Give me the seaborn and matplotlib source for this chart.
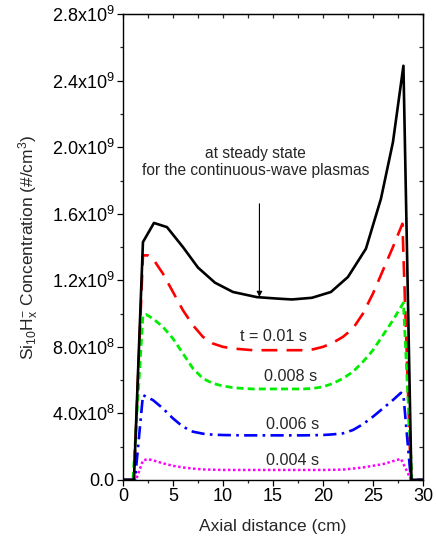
import numpy as np
import pandas as pd
import matplotlib
matplotlib.use("Agg")
import matplotlib.pyplot as plt
from matplotlib.ticker import MultipleLocator
import seaborn as sns

# ---------------- data (concentration in units of 1e9 #/cm^3) ----------------
x_ss = [0, 1.1, 2.0, 3.1, 4.4, 6.0, 7.5, 9.2, 11.0, 13.4, 15.5, 16.9, 18.9,
        20.8, 22.5, 24.3, 25.8, 27.0, 28.05, 28.85, 30]
y_ss = [0, 0, 1.43, 1.545, 1.52, 1.40, 1.277, 1.186, 1.13, 1.099, 1.09, 1.085,
        1.095, 1.13, 1.22, 1.39, 1.69, 2.03, 2.49, 0, 0]

x_010 = [0, 1.1, 2.0, 2.5, 3, 4, 5, 6, 7, 8, 9, 10, 11, 12, 13, 14, 15, 16, 17,
         18, 19, 20, 21, 22, 23, 24, 25, 26, 27, 27.95, 28.8, 30]
y_010 = [0, 0, 1.35, 1.35, 1.33, 1.24, 1.13, 1.02, 0.93, 0.86, 0.82, 0.80, 0.79,
         0.785, 0.78, 0.78, 0.78, 0.78, 0.78, 0.78, 0.785, 0.80, 0.825, 0.86,
         0.91, 1.00, 1.12, 1.26, 1.40, 1.54, 0, 0]

x_008 = [0, 1.0, 2.0, 2.3, 3, 4, 5, 6, 7, 8, 9, 10, 11, 12, 13, 14, 15, 16, 17,
         18, 19, 20, 21, 22, 23, 24, 25, 26, 27, 28.05, 28.9, 30]
y_008 = [0, 0, 0.99, 0.995, 0.97, 0.92, 0.85, 0.76, 0.67, 0.61, 0.58, 0.565,
         0.555, 0.55, 0.547, 0.547, 0.547, 0.547, 0.547, 0.547, 0.55, 0.56,
         0.58, 0.61, 0.65, 0.71, 0.78, 0.87, 0.96, 1.065, 0, 0]

x_006 = [0, 1.2, 2.0, 3, 4, 5, 6, 7, 8, 9, 10, 12, 14, 16, 18, 20, 21, 22, 23,
         24, 25, 26, 27, 27.8, 28.05, 28.8, 30]
y_006 = [0, 0, 0.51, 0.48, 0.43, 0.37, 0.32, 0.29, 0.278, 0.272, 0.27, 0.268,
         0.268, 0.268, 0.268, 0.27, 0.274, 0.28, 0.30, 0.335, 0.38, 0.43, 0.48,
         0.524, 0.51, 0, 0]

x_004 = [0, 1.3, 2.0, 2.5, 3, 4, 5, 6, 7, 8, 10, 12, 14, 16, 18, 20, 22, 24,
         26, 27.8, 28.5, 28.8, 30]
y_004 = [0, 0, 0.117, 0.125, 0.118, 0.10, 0.085, 0.075, 0.068, 0.063, 0.06,
         0.06, 0.06, 0.06, 0.06, 0.06, 0.062, 0.075, 0.095, 0.127, 0.04, 0, 0]

y_ticks = [0.0, 0.4, 0.8, 1.2, 1.6, 2.0, 2.4, 2.8]
y_ticklabels = ["0.0", r"4.0x10$^{8}$", r"8.0x10$^{8}$", r"1.2x10$^{9}$",
                r"1.6x10$^{9}$", r"2.0x10$^{9}$", r"2.4x10$^{9}$", r"2.8x10$^{9}$"]
x_ticks = [0, 5, 10, 15, 20, 25, 30]

curve_labels = ["t = 0.01 s", "0.008 s", "0.006 s", "0.004 s"]
curve_label_pos = [(15.1, 0.863), (16.8, 0.621), (16.95, 0.333), (16.95, 0.117)]

# ---------------- style ----------------
sns.set_style("ticks")
plt.rcParams["font.family"] = ["Liberation Sans", "DejaVu Sans"]
plt.rcParams["mathtext.fontset"] = "custom"
plt.rcParams["mathtext.rm"] = "Liberation Sans"
plt.rcParams["mathtext.it"] = "Liberation Sans:italic"
plt.rcParams["mathtext.default"] = "regular"

fig = plt.figure(figsize=(4.36, 5.46), dpi=100)
ax = fig.add_axes([0.282, 0.121, 0.688, 0.853])

series = [
    (x_ss, y_ss, "black", "-", 1.9),
    (x_010, y_010, "#ff0000", (0, (6, 3.5)), 1.9),
    (x_008, y_008, "#00ee00", (0, (2.5, 1.5)), 2.0),
    (x_006, y_006, "#0000ff", (0, (5, 2, 1, 2)), 1.9),
    (x_004, y_004, "#ff00ff", (0, (1, 1)), 1.8),
]
# draw colored curves first, black on top
for xs, ys, col, ls, lw in series[1:] + series[:1]:
    df = pd.DataFrame({"x": xs, "y": np.array(ys) * 1e9})
    sns.lineplot(data=df, x="x", y="y", ax=ax, color=col, lw=lw,
                 linestyle=ls, sort=False, estimator=None)

ax.set_xlim(0, 30)
ax.set_ylim(0, 2.8e9)
ax.set_xticks(x_ticks)
ax.set_xticklabels([str(t) for t in x_ticks])
ax.xaxis.set_minor_locator(MultipleLocator(2.5))
ax.set_yticks([v * 1e9 for v in y_ticks])
ax.set_yticklabels(y_ticklabels)
ax.yaxis.set_minor_locator(MultipleLocator(0.2e9))

ax.tick_params(axis="both", which="major", direction="out", length=4,
               width=0.9, labelsize=13, colors="black", pad=2)
ax.tick_params(axis="both", which="minor", direction="out", length=2.5,
               width=0.9)
for sp in ax.spines.values():
    sp.set_linewidth(1.0)
    sp.set_color("black")
    sp.set_visible(True)

# mirrored inward ticks on top and right
secx = ax.secondary_xaxis("top")
secx.set_xticks(x_ticks)
secx.xaxis.set_minor_locator(MultipleLocator(2.5))
secx.tick_params(which="both", direction="in", length=3, width=0.9,
                 labeltop=False)
secy = ax.secondary_yaxis("right")
secy.set_yticks([v * 1e9 for v in y_ticks])
secy.yaxis.set_minor_locator(MultipleLocator(0.2e9))
secy.tick_params(which="both", direction="in", length=3, width=0.9,
                 labelright=False)

ax.set_xlabel("Axial distance (cm)", fontsize=12.5, labelpad=10)
ax.set_ylabel(r"Si$_{10}$H$_{x}^{-}$ Concentration (#/cm$^{3}$)",
              fontsize=12.5, labelpad=8)

ax.text(13.25, 1.91e9, "at steady state\nfor the continuous-wave plasmas",
        ha="center", va="center", fontsize=11.2, multialignment="center")
ax.annotate("", xy=(13.65, 1.10e9), xytext=(13.65, 1.66e9),
            arrowprops=dict(arrowstyle="-|>", color="black", lw=0.8,
                            mutation_scale=8, shrinkA=0, shrinkB=0))

for lab, (tx, ty) in zip(curve_labels, curve_label_pos):
    ax.text(tx, ty * 1e9, lab, ha="center", va="center", fontsize=11.6)

fig.savefig("out.png", dpi=100)
